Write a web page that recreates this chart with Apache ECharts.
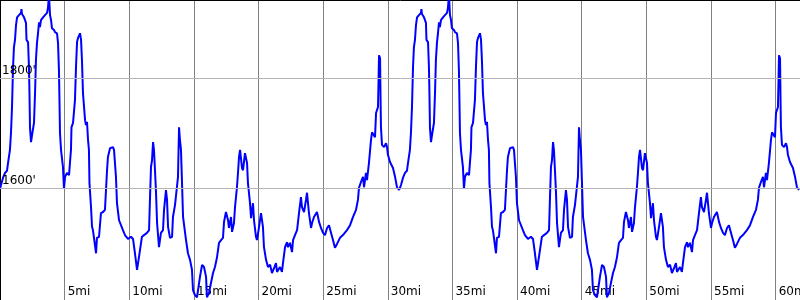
<!DOCTYPE html>
<html>
<head>
<meta charset="utf-8">
<script src="https://cdn.jsdelivr.net/npm/echarts@6/dist/echarts.min.js"></script>
<style>html,body{margin:0;padding:0;background:#fff}#c{width:800px;height:300px}</style>
</head>
<body>
<div id="c"></div>
<script>
// Distance within one lap (miles) and elevation (feet); the course is run twice.
const lapMiles = [
0,0.08,0.23,0.39,0.54,0.62,0.77,0.85,0.93,1.01,
1.08,1.16,1.24,1.32,1.47,1.62,1.66,1.70,1.86,2.01,
2.05,2.17,2.24,2.28,2.32,2.40,2.48,2.63,2.71,2.78,
2.86,2.94,3.02,3.09,3.17,3.33,3.48,3.64,3.71,3.79,
3.87,3.95,4.02,4.18,4.25,4.41,4.49,4.56,4.60,4.64,
4.72,4.87,4.95,5.03,5.18,5.34,5.41,5.49,5.53,5.65,
5.80,5.88,5.96,6.03,6.19,6.27,6.34,6.42,6.58,6.65,
6.73,6.81,6.88,6.92,7.04,7.12,7.19,7.43,7.50,7.66,
7.81,7.97,8.12,8.28,8.35,8.51,8.74,8.82,8.97,9.05,
9.21,9.36,9.51,9.67,9.90,10.13,10.29,10.44,10.60,10.75,
10.98,11.14,11.37,11.53,11.60,11.68,11.76,11.84,11.91,11.99,
12.07,12.15,12.30,12.45,12.61,12.69,12.84,12.92,13.00,13.15,
13.31,13.38,13.54,13.69,13.77,13.85,13.92,14.00,14.08,14.16,
14.39,14.54,14.70,14.85,14.93,15.08,15.24,15.47,15.63,15.78,
15.94,16.01,16.17,16.32,16.48,16.63,16.79,16.94,17.10,17.25,
17.33,17.48,17.64,17.71,17.87,17.95,18.10,18.18,18.33,18.41,
18.49,18.57,18.72,18.80,18.95,19.11,19.18,19.34,19.42,19.57,
19.65,19.80,19.88,20.04,20.19,20.34,20.42,20.58,20.73,20.89,
21.04,21.20,21.35,21.43,21.66,21.81,21.89,22.05,22.20,22.28,
22.43,22.59,22.67,22.82,22.98,23.13,23.28,23.36,23.52,23.67,
23.75,23.90,24.06,24.14,24.29,24.52,24.68,24.83,24.99,25.14,
25.30,25.45,25.61,25.76,25.91,26.07,26.30,26.53,26.84,27.08,
27.31,27.54,27.69,27.77,27.93,28.08,28.16,28.31,28.39,28.54,
28.70,28.78,28.85,29.01,29.09,29.24,29.28,29.32,29.40,29.44,
29.47,29.55,29.71,29.86,29.94,30.01,30.17,30.40,30.56,30.71,
30.87
];
const lapFeet = [
1599,1606,1619,1628,1632,1646,1670,1701,1748,1821,
1857,1870,1897,1911,1915,1919,1926,1917,1911,1901,
1870,1866,1821,1773,1711,1684,1697,1719,1773,1833,
1864,1882,1902,1893,1906,1911,1915,1919,1928,1951,
1915,1906,1891,1888,1884,1882,1864,1815,1761,1701,
1670,1639,1599,1621,1628,1624,1646,1670,1711,1719,
1761,1821,1866,1873,1882,1870,1833,1773,1724,1715,
1721,1688,1670,1610,1566,1530,1524,1482,1510,1512,
1555,1557,1561,1633,1657,1673,1675,1670,1621,1573,
1542,1539,1524,1515,1508,1512,1508,1482,1452,1475,
1512,1515,1519,1524,1579,1639,1651,1684,1670,1633,
1592,1537,1493,1519,1524,1561,1597,1579,1530,1510,
1512,1548,1570,1573,1621,1711,1688,1670,1610,1548,
1506,1482,1470,1452,1415,1406,1402,1439,1461,1457,
1439,1402,1410,1428,1446,1457,1475,1501,1506,1510,
1539,1557,1542,1528,1548,1521,1537,1566,1602,1628,
1657,1670,1637,1633,1664,1646,1610,1573,1546,1573,
1542,1512,1506,1530,1555,1530,1493,1470,1457,1461,
1446,1455,1464,1448,1457,1448,1464,1493,1502,1493,
1501,1484,1506,1515,1524,1555,1584,1566,1557,1579,
1592,1555,1528,1537,1548,1557,1539,1528,1519,1515,
1528,1533,1519,1506,1492,1499,1510,1515,1524,1533,
1548,1561,1579,1601,1612,1621,1602,1628,1615,1646,
1688,1702,1702,1693,1737,1748,1792,1842,1837,1761,
1711,1679,1675,1682,1675,1661,1648,1637,1621,1602,
1597
];
const lapStartMiles = [0, 30.94];
const elevationGridFeet = [1600, 1800];
const elevationLabels = ["1600'", "1800'"];
const mileTickStep = 5;

const points = [];
lapStartMiles.forEach(function (start) {
  lapMiles.forEach(function (m, i) {
    points.push([+(start + m).toFixed(2), lapFeet[i]]);
  });
});

const chart = echarts.init(document.getElementById('c'), null, {renderer: 'canvas'});
const font = 'DejaVu Sans';
chart.setOption({
  animation: false,
  backgroundColor: '#ffffff',
  grid: {left: 0, right: -2, top: 0, bottom: 0, containLabel: false, outerBoundsMode: 'none'},
  xAxis: [{
    type: 'value', min: 0, max: 62.04, interval: mileTickStep, position: 'bottom',
    axisLine: {show: false}, axisTick: {show: false},
    splitLine: {show: true, lineStyle: {color: '#808080', width: 1}},
    axisLabel: {
      inside: true, margin: 2, align: 'left', padding: [0, 0, 0, 3],
      color: '#000', fontSize: 12, fontFamily: font,
      showMinLabel: false, showMaxLabel: false, hideOverlap: false,
      formatter: function (v) { return (v > 0 && v % mileTickStep === 0) ? v + 'mi' : ''; }
    }
  }, {
    type: 'value', min: 0, max: 62.04, position: 'top',
    axisLine: {show: true, lineStyle: {color: '#000', width: 1}},
    axisTick: {show: false}, axisLabel: {show: false}, splitLine: {show: false}
  }],
  yAxis: {
    type: 'value', min: 1397, max: 1942.5,
    axisLine: {show: true, onZero: false, lineStyle: {color: '#000', width: 1}},
    axisTick: {show: false}, axisLabel: {show: false}, splitLine: {show: false}
  },
  series: [{
    type: 'line', data: [], z: 1, silent: true,
    markLine: {
      silent: true, symbol: 'none', animation: false,
      lineStyle: {color: '#b4b4b4', width: 1, type: 'solid'},
      label: {
        position: 'insideStartTop', distance: [2, 1],
        color: '#000', fontSize: 12, fontFamily: font,
        formatter: function (p) { return elevationLabels[elevationGridFeet.indexOf(p.value)]; }
      },
      data: elevationGridFeet.map(function (v) { return {yAxis: v}; })
    }
  }, {
    type: 'line', data: points, z: 3, showSymbol: false, symbol: 'none',
    clip: true, silent: true,
    lineStyle: {color: '#0000ff', width: 2}
  }]
});
</script>
</body>
</html>
